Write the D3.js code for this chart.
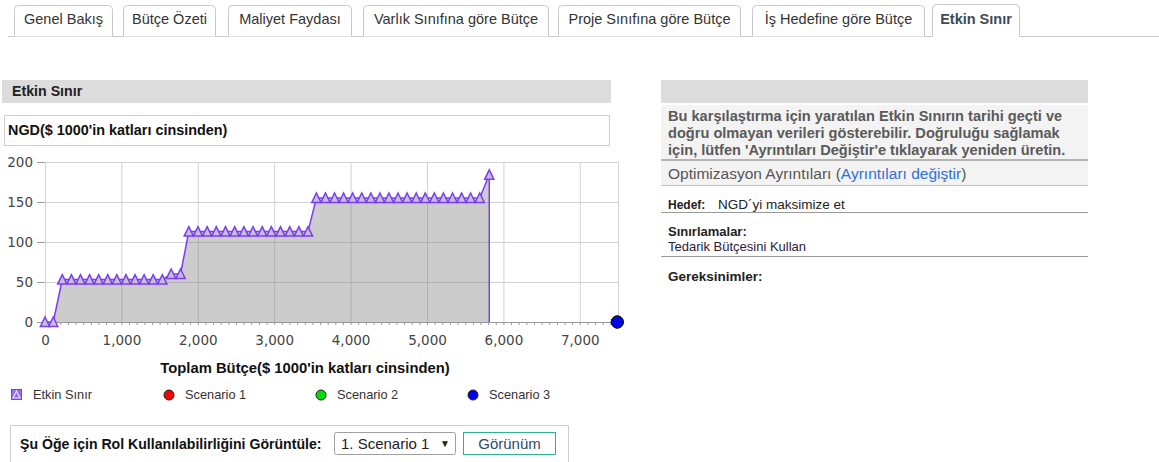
<!DOCTYPE html>
<html lang="tr">
<head>
<meta charset="UTF-8">
<title>Etkin Sınır</title>
<style>
    body { margin:0; background:#fff; }
    svg text { font-family: "Liberation Sans", Arial, sans-serif; }
    .tick text { font-family: "DejaVu Sans", sans-serif; font-size:13.5px; fill:#444; }
    .grid line { stroke:#d2d2d2; stroke-width:1; }
    .grid path { display:none; }
</style>
</head>
<body>
<script src="https://cdn.jsdelivr.net/npm/d3@7"></script>
<script>
// tab labels
var tabLabels = ["Genel Bakış", "Bütçe Özeti", "Maliyet Faydası", "Varlık Sınıfına göre Bütçe",
                 "Proje Sınıfına göre Bütçe", "İş Hedefine göre Bütçe", "Etkin Sınır"];
var activeTab = 6;

// efficient frontier: total budget ($1000s) and NPV ($1000s)
var frontierBudget = [0, 108,
    226, 345, 464, 583, 702, 821, 940, 1059, 1178, 1297, 1416, 1535,
    1651, 1774,
    1882, 2002, 2122, 2242, 2362, 2482, 2603, 2723, 2843, 2962, 3082, 3203, 3323, 3442,
    3552, 3671, 3790, 3908, 4027, 4146, 4265, 4384, 4502, 4621, 4740, 4859, 4977, 5096, 5215, 5334, 5453, 5571, 5690,
    5815];
var frontierNpv = [0, 0,
    53, 53, 53, 53, 53, 53, 53, 53, 53, 53, 53, 53,
    60, 60,
    113, 113, 113, 113, 113, 113, 113, 113, 113, 113, 113, 113, 113, 113,
    155, 155, 155, 155, 155, 155, 155, 155, 155, 155, 155, 155, 155, 155, 155, 155, 155, 155, 155,
    184];

// scenarios
var scenarioNames = ["Scenario 1", "Scenario 2", "Scenario 3"];
var scenarioBudget = [7490, 7490, 7490];
var scenarioNpv = [0, 0, 0];
var scenarioColors = ["#ff0000", "#00dd00", "#0000ee"];

// axis ticks
var yTicks = [0, 50, 100, 150, 200];
var xTicks = [0, 1000, 2000, 3000, 4000, 5000, 6000, 7000];

// right panel texts
var warningLines = ["Bu karşılaştırma için yaratılan Etkin Sınırın tarihi geçti ve",
                    "doğru olmayan verileri gösterebilir. Doğruluğu sağlamak",
                    "için, lütfen 'Ayrıntıları Değiştir'e tıklayarak yeniden üretin."];

var W = 1159, H = 462;
var svg = d3.select("body").append("svg").attr("width", W).attr("height", H);

// ---------- tabs ----------
var tabX = [14, 123, 228, 363, 558, 752, 932];
var tabW = [99, 93, 124, 186, 183, 173, 88];
svg.append("line").attr("x1", 8).attr("x2", W).attr("y1", 36.5).attr("y2", 36.5)
    .attr("stroke", "#c8c8c8");
tabLabels.forEach(function (t, i) {
    var x0 = tabX[i] + 0.5, x1 = tabX[i] + tabW[i] - 0.5, top = (i === activeTab ? 4.5 : 5.5), bot = 36.5, r = 4;
    var p = "M" + x0 + "," + bot + "L" + x0 + "," + (top + r) + "Q" + x0 + "," + top + " " + (x0 + r) + "," + top +
        "L" + (x1 - r) + "," + top + "Q" + x1 + "," + top + " " + x1 + "," + (top + r) + "L" + x1 + "," + bot;
    if (i === activeTab) {
        svg.append("rect").attr("x", x0).attr("y", top).attr("width", x1 - x0).attr("height", bot - top + 1).attr("fill", "#fff");
    }
    svg.append("path").attr("d", p).attr("fill", "#fff").attr("stroke", "#c8c8c8");
    svg.append("text").attr("x", (x0 + x1) / 2).attr("y", 24)
        .attr("text-anchor", "middle").attr("font-size", "14.5px")
        .attr("font-weight", i === activeTab ? "bold" : "normal")
        .attr("fill", i === activeTab ? "#3b4a5a" : "#333")
        .text(t);
});

// ---------- left panel ----------
svg.append("rect").attr("x", 2).attr("y", 80).attr("width", 609).attr("height", 23).attr("fill", "#dcdcdc");
svg.append("text").attr("x", 12).attr("y", 96).attr("font-size", "14.2px").attr("font-weight", "bold")
    .attr("fill", "#222").text("Etkin Sınır");
svg.append("rect").attr("x", 4.5).attr("y", 115.5).attr("width", 605).attr("height", 30)
    .attr("fill", "#fff").attr("stroke", "#cfcfcf");
svg.append("text").attr("x", 8).attr("y", 135).attr("font-size", "14.4px").attr("font-weight", "bold")
    .attr("fill", "#111").text("NGD($ 1000'in katları cinsinden)");

// ---------- chart ----------
var x = d3.scaleLinear().domain([0, 7500]).range([45, 618]);
var y = d3.scaleLinear().domain([0, 200]).range([322, 162]);

var g = svg.append("g");
g.append("g").attr("class", "grid").attr("transform", "translate(0,322)")
    .call(d3.axisBottom(x).tickValues(xTicks.concat([7500])).tickSize(-160).tickFormat(""));
g.append("g").attr("class", "grid").attr("transform", "translate(45,0)")
    .call(d3.axisLeft(y).tickValues(yTicks).tickSize(-573).tickFormat(""));

var frontier = frontierBudget.map(function (b, i) { return [b, frontierNpv[i]]; });

g.append("path").datum(frontier)
    .attr("fill", "rgba(120,120,120,0.38)")
    .attr("d", d3.area().x(function (d) { return x(d[0]); }).y0(y(0)).y1(function (d) { return y(d[1]); }));

// x axis line + minor ticks
var minor = d3.axisBottom(x).tickValues(d3.range(0, 7501, 100)).tickSize(3).tickFormat("");
var xm = g.append("g").attr("transform", "translate(0,322)").call(minor);
xm.selectAll("line").attr("stroke", "#999");
xm.select(".domain").attr("stroke", "#999");

var xAxis = g.append("g").attr("transform", "translate(0,322)")
    .call(d3.axisBottom(x).tickValues(xTicks).tickSize(0).tickPadding(13).tickFormat(d3.format(",")));
xAxis.select(".domain").remove();

var yAxis = g.append("g").attr("transform", "translate(45,0)")
    .call(d3.axisLeft(y).tickValues(yTicks).tickSize(8).tickPadding(4));
yAxis.select(".domain").remove();
yAxis.selectAll("line").attr("stroke", "#999");
yAxis.selectAll("text").attr("dy", "0.35em");

var purple = "#7d3cf0";
g.append("path").datum(frontier).attr("fill", "none").attr("stroke", purple).attr("stroke-width", 1.5)
    .attr("d", d3.line().x(function (d) { return x(d[0]); }).y(function (d) { return y(d[1]); }));
var last = frontier[frontier.length - 1];
g.append("line").attr("x1", x(last[0])).attr("x2", x(last[0])).attr("y1", y(last[1])).attr("y2", y(0))
    .attr("stroke", purple).attr("stroke-width", 1.5);

var tri = "M0,-5L4.6,4.5L-4.6,4.5Z";
g.selectAll(".tri").data(frontier).enter().append("path").attr("class", "tri")
    .attr("d", tri)
    .attr("transform", function (d) { return "translate(" + x(d[0]) + "," + y(d[1]) + ")"; })
    .attr("fill", "#c6c0d4").attr("stroke", purple).attr("stroke-width", 1.5);

scenarioNames.forEach(function (s, i) {
    g.append("circle").attr("cx", x(scenarioBudget[i])).attr("cy", y(scenarioNpv[i])).attr("r", 6)
        .attr("fill", scenarioColors[i]).attr("stroke", "#111").attr("stroke-width", 1);
});

svg.append("text").attr("x", 305).attr("y", 373).attr("text-anchor", "middle")
    .attr("font-size", "14.8px").attr("font-weight", "bold").attr("fill", "#111")
    .text("Toplam Bütçe($ 1000'in katları cinsinden)");

// ---------- legend ----------
var legY = 395;
var leg = svg.append("g");
leg.append("rect").attr("x", 11.5).attr("y", legY - 5.5).attr("width", 10).attr("height", 10).attr("fill", "#9a6af0")
    .attr("stroke", "#7d3cf0");
leg.append("path").attr("d", "M16.5," + (legY - 4) + "L20," + (legY + 3) + "L13," + (legY + 3) + "Z")
    .attr("fill", "none").attr("stroke", "#e8e0ff").attr("stroke-width", 1.2);
leg.append("text").attr("x", 33).attr("y", legY + 4).attr("font-size", "12.8px").attr("fill", "#333").text("Etkin Sınır");
var legX = [169, 321, 473];
scenarioNames.forEach(function (s, i) {
    leg.append("circle").attr("cx", legX[i]).attr("cy", legY).attr("r", 5)
        .attr("fill", scenarioColors[i]).attr("stroke", "#222");
    leg.append("text").attr("x", legX[i] + 16).attr("y", legY + 4).attr("font-size", "12.8px").attr("fill", "#333").text(s);
});

// ---------- role availability box ----------
svg.append("rect").attr("x", 10.5).attr("y", 425.5).attr("width", 558).attr("height", 50)
    .attr("fill", "#fff").attr("stroke", "#cfcfcf");
svg.append("text").attr("x", 20).attr("y", 449).attr("font-size", "14.1px").attr("font-weight", "bold")
    .attr("fill", "#111").text("Şu Öğe için Rol Kullanılabilirliğini Görüntüle:");
svg.append("rect").attr("x", 334.5).attr("y", 432.5).attr("width", 121).attr("height", 22).attr("rx", 2)
    .attr("fill", "#fff").attr("stroke", "#a0a0a0");
svg.append("text").attr("x", 341).attr("y", 449).attr("font-size", "15px").attr("fill", "#222").text("1. Scenario 1");
svg.append("text").attr("x", 440).attr("y", 447).attr("font-size", "10px").attr("fill", "#222").text("▼");
svg.append("rect").attr("x", 463.5).attr("y", 432.5).attr("width", 92).attr("height", 22)
    .attr("fill", "#fff").attr("stroke", "#2fb08f");
svg.append("text").attr("x", 509.5).attr("y", 449).attr("text-anchor", "middle").attr("font-size", "15px")
    .attr("fill", "#2c4a6b").text("Görünüm");

// ---------- right panel ----------
var rp = svg.append("g");
rp.append("rect").attr("x", 661).attr("y", 80).attr("width", 427).attr("height", 23).attr("fill", "#dcdcdc");
rp.append("rect").attr("x", 661).attr("y", 105).attr("width", 427).attr("height", 54).attr("fill", "#f3f3f3");
warningLines.forEach(function (l, i) {
    rp.append("text").attr("x", 668).attr("y", 121 + i * 17).attr("font-size", "14.6px").attr("font-weight", "bold")
        .attr("fill", "#5a5a5a").text(l);
});
rp.append("line").attr("x1", 661).attr("x2", 1088).attr("y1", 160).attr("y2", 160).attr("stroke", "#b4b4b4").attr("stroke-width", 2);
rp.append("rect").attr("x", 661).attr("y", 161).attr("width", 427).attr("height", 24).attr("fill", "#f3f3f3");
var opt = rp.append("text").attr("x", 668).attr("y", 179).attr("font-size", "15.5px").attr("fill", "#555");
opt.append("tspan").text("Optimizasyon Ayrıntıları (");
opt.append("tspan").attr("fill", "#2f6fdc").text("Ayrıntıları değiştir");
opt.append("tspan").text(")");
rp.append("line").attr("x1", 661).attr("x2", 1088).attr("y1", 185.5).attr("y2", 185.5).attr("stroke", "#c4c4c4");

rp.append("text").attr("x", 668).attr("y", 209).attr("font-size", "12px").attr("font-weight", "bold").attr("fill", "#222").text("Hedef:");
rp.append("text").attr("x", 718).attr("y", 209).attr("font-size", "13.5px").attr("fill", "#222").text("NGD´yi maksimize et");
rp.append("line").attr("x1", 661).attr("x2", 1088).attr("y1", 212.5).attr("y2", 212.5).attr("stroke", "#999");
rp.append("text").attr("x", 668).attr("y", 236).attr("font-size", "13px").attr("font-weight", "bold").attr("fill", "#222").text("Sınırlamalar:");
rp.append("text").attr("x", 668).attr("y", 251).attr("font-size", "13px").attr("fill", "#2a2040").text("Tedarik Bütçesini Kullan");
rp.append("line").attr("x1", 661).attr("x2", 1088).attr("y1", 256.5).attr("y2", 256.5).attr("stroke", "#999");
rp.append("text").attr("x", 668).attr("y", 281).attr("font-size", "13.5px").attr("font-weight", "bold").attr("fill", "#222").text("Gereksinimler:");
</script>
</body>
</html>
